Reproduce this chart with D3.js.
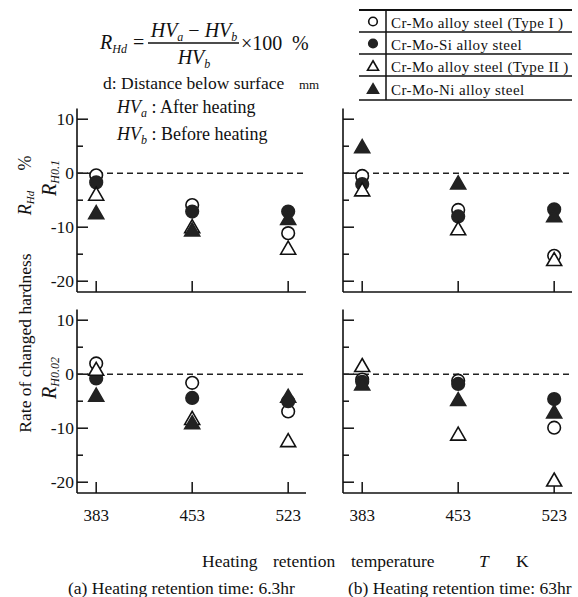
<!DOCTYPE html>
<html lang="en">
<head>
    <meta charset="UTF-8">
    <title>Rate of changed hardness</title>
    <script src="https://d3js.org/d3.v7.min.js"></script>
    <style>
        body { margin: 0; background: #fff; }
        svg, svg text { font-family: "Liberation Serif", "Times New Roman", serif; }
        svg { display: block; }
        .it { font-style: italic; }
    </style>
</head>
<body>
    <svg id="chart" width="578" height="597" font-family="Liberation Serif, serif"></svg>

    <script>
        // temperatures (K) and y ticks
        const temps = [383, 453, 523];
        const yMajor = [-20, -10, 0, 10];
        const yMinor = [-15, -5, 5];

        const seriesNames = [
            "Cr-Mo alloy steel (Type I )",
            "Cr-Mo-Si alloy steel",
            "Cr-Mo alloy steel (Type II )",
            "Cr-Mo-Ni alloy steel"
        ];
        const seriesShapes = ["openCircle", "filledCircle", "openTri", "filledTri"];

        // (a) 6.3hr, R_H0.1  — order follows seriesNames
        const a01 = [
            [-0.4, -5.9, -11.1],
            [-1.7, -7.1, -7.1],
            [-3.8, -9.8, -13.8],
            [-7.2, -10.4, -8.3]
        ];
        // (b) 63hr, R_H0.1
        const b01 = [
            [-0.5, -6.8, -15.3],
            [-2.0, -8.0, -6.7],
            [-3.0, -10.2, -15.9],
            [5.0, -1.7, -7.8]
        ];
        // (a) 6.3hr, R_H0.02
        const a002 = [
            [2.0, -1.6, -6.9],
            [-0.8, -4.4, -5.0],
            [1.0, -8.1, -12.2],
            [-3.8, -8.9, -4.0]
        ];
        // (b) 63hr, R_H0.02
        const b002 = [
            [-1.0, -1.2, -9.9],
            [-1.4, -1.8, -4.6],
            [1.7, -11.0, -19.5],
            [-1.7, -4.6, -6.9]
        ];

        const svg = d3.select("#chart");
        const ink = "#111";

        const panels = [
            { data: a01, x0: 77, y0: 292, labels: true },
            { data: b01, x0: 343, y0: 292, labels: false },
            { data: a002, x0: 77, y0: 493, labels: true },
            { data: b002, x0: 343, y0: 493, labels: false }
        ];

        function triPath(cx, cy, s) {
            let h = s * Math.sqrt(3) / 2;
            let p = d3.path();
            p.moveTo(cx, cy - h / 2);
            p.lineTo(cx + s / 2, cy + h / 2);
            p.lineTo(cx - s / 2, cy + h / 2);
            p.closePath();
            return p.toString();
        }

        function marker(g, shape, cx, cy, big) {
            let r = big ? 6.3 : 4.3;
            let s = big ? 15 : 11;
            let filled = shape.startsWith("filled");
            let el;
            if (shape.endsWith("Circle")) {
                el = g.append("circle").attr("cx", cx).attr("cy", cy).attr("r", r);
            } else {
                el = g.append("path").attr("d", triPath(cx, cy, s));
            }
            el.attr("fill", filled ? "#222" : "#fff")
              .attr("stroke", filled ? "#222" : ink)
              .attr("stroke-width", 1.6);
        }

        panels.forEach(p => {
            let x = d3.scaleLinear().domain([369, 536]).range([p.x0, p.x0 + 229]);
            let y = d3.scaleLinear().domain([-22, 12]).range([p.y0, p.y0 - 34 * 5.4]);
            let g = svg.append("g");

            // axes lines
            g.append("line").attr("x1", x(369)).attr("x2", x(369))
                .attr("y1", y(12)).attr("y2", y(-22))
                .attr("stroke", ink).attr("stroke-width", 1.6);
            g.append("line").attr("x1", x(369)).attr("x2", x(536))
                .attr("y1", y(-22)).attr("y2", y(-22))
                .attr("stroke", ink).attr("stroke-width", 1.6);

            // y ticks (inward)
            g.selectAll(".ymaj").data(yMajor).enter().append("line")
                .attr("x1", x(369)).attr("x2", x(369) + 11)
                .attr("y1", d => y(d)).attr("y2", d => y(d))
                .attr("stroke", ink).attr("stroke-width", 1.5);
            g.selectAll(".ymin").data(yMinor).enter().append("line")
                .attr("x1", x(369)).attr("x2", x(369) + 6)
                .attr("y1", d => y(d)).attr("y2", d => y(d))
                .attr("stroke", ink).attr("stroke-width", 1.5);

            if (p.labels) {
                g.selectAll(".ylab").data(yMajor).enter().append("text")
                    .attr("x", x(369) - 3).attr("y", d => y(d) + 6)
                    .attr("text-anchor", "end").attr("font-size", 17.5)
                    .attr("fill", ink)
                    .text(d => d);
            }

            // x ticks (inward)
            g.selectAll(".xt").data(temps).enter().append("line")
                .attr("x1", d => x(d)).attr("x2", d => x(d))
                .attr("y1", y(-22)).attr("y2", y(-22) - 11)
                .attr("stroke", ink).attr("stroke-width", 1.5);

            // zero line
            g.append("line").attr("x1", x(369)).attr("x2", x(536))
                .attr("y1", y(0)).attr("y2", y(0))
                .attr("stroke", "#222").attr("stroke-width", 1.5)
                .attr("stroke-dasharray", "6,4");

            // markers
            p.data.forEach((vals, si) => {
                vals.forEach((v, i) => marker(g, seriesShapes[si], x(temps[i]), y(v), true));
            });

            // x tick labels under the lower panels
            if (p.y0 > 400) {
                g.selectAll(".xlab").data(temps).enter().append("text")
                    .attr("x", d => x(d)).attr("y", 521)
                    .attr("text-anchor", "middle").attr("font-size", 17)
                    .attr("fill", ink)
                    .text(d => d);
            }
        });

        // formula block
        let f = svg.append("g").attr("fill", ink);
        let t = f.append("text").attr("x", 100).attr("y", 49).attr("font-size", 20);
        t.append("tspan").attr("class", "it").text("R");
        t.append("tspan").attr("class", "it").attr("font-size", 12).attr("dy", 4).text("Hd");
        t.append("tspan").attr("dy", -4).attr("dx", 6).text("=");

        t = f.append("text").attr("x", 194).attr("y", 37).attr("font-size", 20).attr("text-anchor", "middle");
        t.append("tspan").attr("class", "it").text("HV");
        t.append("tspan").attr("class", "it").attr("font-size", 12).attr("dy", 4).text("a");
        t.append("tspan").attr("dy", -4).text(" \u2212 ");
        t.append("tspan").attr("class", "it").text("HV");
        t.append("tspan").attr("class", "it").attr("font-size", 12).attr("dy", 4).text("b");

        f.append("line").attr("x1", 148).attr("x2", 239).attr("y1", 43).attr("y2", 43)
            .attr("stroke", ink).attr("stroke-width", 1.3);

        t = f.append("text").attr("x", 194).attr("y", 64).attr("font-size", 20).attr("text-anchor", "middle");
        t.append("tspan").attr("class", "it").text("HV");
        t.append("tspan").attr("class", "it").attr("font-size", 12).attr("dy", 4).text("b");

        f.append("text").attr("x", 241).attr("y", 50).attr("font-size", 20).text("\u00d7100");
        f.append("text").attr("x", 292).attr("y", 50).attr("font-size", 20).text("%");

        f.append("text").attr("x", 103).attr("y", 89).attr("font-size", 17.5).text("d: Distance below surface");
        f.append("text").attr("x", 299).attr("y", 89).attr("font-size", 13).text("mm");

        t = f.append("text").attr("x", 117).attr("y", 113).attr("font-size", 18);
        t.append("tspan").attr("class", "it").text("HV");
        t.append("tspan").attr("class", "it").attr("font-size", 12).attr("dy", 4).text("a");
        t.append("tspan").attr("dy", -4).text(" : After heating");

        t = f.append("text").attr("x", 117).attr("y", 140).attr("font-size", 18);
        t.append("tspan").attr("class", "it").text("HV");
        t.append("tspan").attr("class", "it").attr("font-size", 12).attr("dy", 4).text("b");
        t.append("tspan").attr("dy", -4).text(" : Before heating");

        // legend table
        let lg = svg.append("g");
        let rowLines = [10, 32, 54, 76, 100];
        lg.selectAll(".rl").data(rowLines).enter().append("line")
            .attr("x1", 359).attr("x2", 572)
            .attr("y1", d => d).attr("y2", d => d)
            .attr("stroke", ink).attr("stroke-width", (d, i) => i === 0 ? 2.2 : 1.5);
        lg.append("line").attr("x1", 386).attr("x2", 386).attr("y1", 10).attr("y2", 100)
            .attr("stroke", ink).attr("stroke-width", 1.5);
        seriesNames.forEach((name, i) => {
            let cy = (rowLines[i] + rowLines[i + 1]) / 2 + 0.5;
            marker(lg, seriesShapes[i], 373, cy, false);
            lg.append("text").attr("x", 391).attr("y", cy + 6)
                .attr("font-size", 15).attr("letter-spacing", 0.4)
                .attr("fill", ink).text(name);
        });

        // rotated y labels
        function vtext(x, y) {
            return svg.append("text")
                .attr("transform", `translate(${x},${y}) rotate(-90)`)
                .attr("text-anchor", "middle").attr("fill", ink);
        }
        vtext(31, 343).attr("font-size", 17.5).text("Rate of changed hardness");
        t = vtext(31, 203).attr("font-size", 18);
        t.append("tspan").attr("class", "it").text("R");
        t.append("tspan").attr("class", "it").attr("font-size", 11).attr("dy", 3).text("Hd");
        vtext(31, 163).attr("font-size", 18).text("%");

        t = vtext(56, 178).attr("font-size", 20);
        t.append("tspan").attr("class", "it").text("R");
        t.append("tspan").attr("class", "it").attr("font-size", 12).attr("dy", 3).text("H0.1");
        t = vtext(56, 378).attr("font-size", 20);
        t.append("tspan").attr("class", "it").text("R");
        t.append("tspan").attr("class", "it").attr("font-size", 12).attr("dy", 3).text("H0.02");

        // x axis title, spaced words
        let words = [["Heating", 202, false], ["retention", 273, false], ["temperature", 351, false], ["T", 479, true], ["K", 516, false]];
        words.forEach(w => {
            svg.append("text").attr("x", w[1]).attr("y", 567).attr("font-size", 17.5)
                .attr("class", w[2] ? "it" : null).attr("fill", ink).text(w[0]);
        });

        svg.append("text").attr("x", 68).attr("y", 594).attr("font-size", 17.5).attr("fill", ink)
            .text("(a) Heating retention time: 6.3hr");
        svg.append("text").attr("x", 348).attr("y", 594).attr("font-size", 17.5).attr("fill", ink)
            .text("(b) Heating retention time: 63hr");
    </script>
</body>
</html>
